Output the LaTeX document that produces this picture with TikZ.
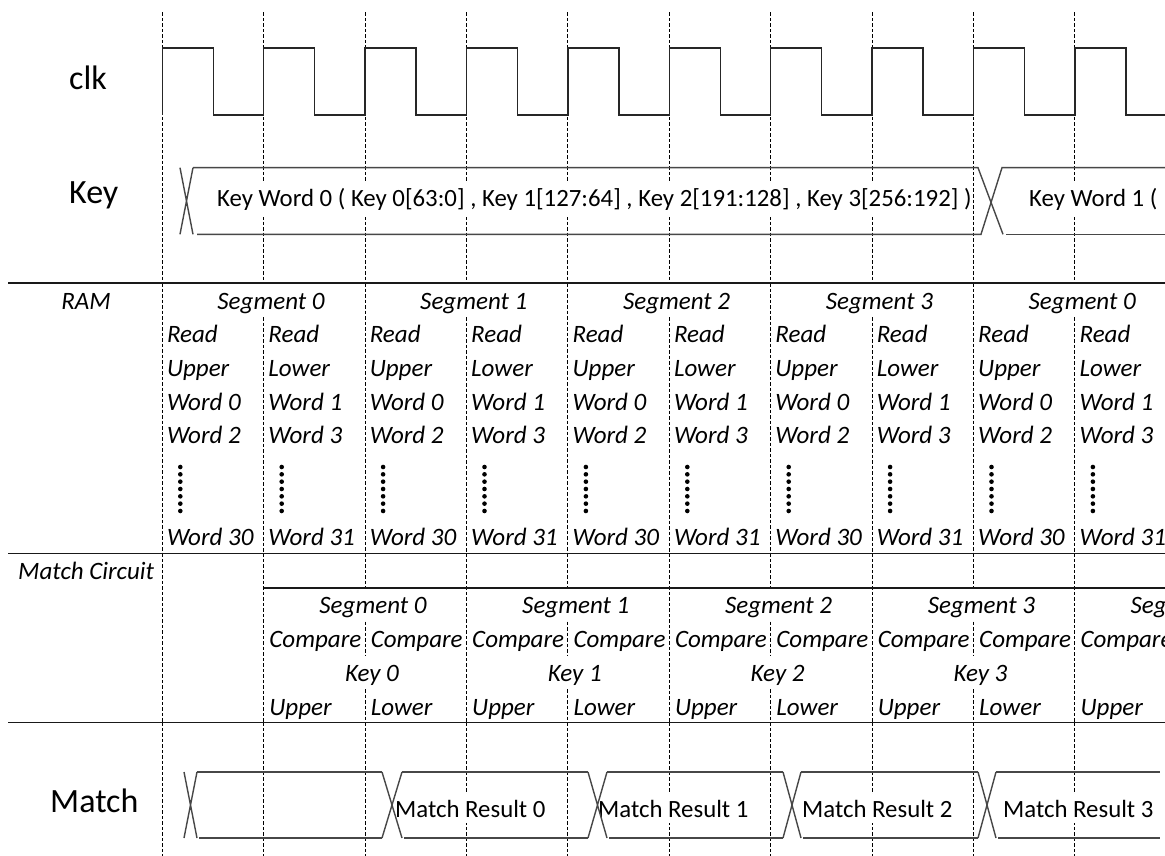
\documentclass[tikz,border=0pt]{standalone}
\usepackage{fontspec}
\setmainfont{Carlito}
\begin{document}
\begin{tikzpicture}[x=1pt,y=-1pt,
  dl/.style={dash pattern=on 3.5pt off 2pt, line width=1pt, black},
  sl/.style={line width=1.6pt, black!90},
  ck/.style={line width=1.5pt, black!85},
  bl/.style={line width=1.4pt, black!72},
  big/.style={font=\fontsize{34}{40}\selectfont, inner sep=0pt},
  bt/.style={font=\fontsize{24.8}{29}\selectfont, fill=white, inner xsep=1pt, inner ysep=6pt},
  it/.style={font=\fontsize{25}{30}\selectfont\itshape, inner sep=0pt},
]
\clip (0,0) rectangle (1165,856);
\fill[white] (0,0) rectangle (1165,856);

% ---- dashed clock-edge lines ----
\foreach \i in {0,...,9}{
  \pgfmathsetmacro{\xx}{162.3+101.4*\i}
  \draw[dl] (\xx,12.5) -- (\xx,283);
  \draw[dl] (\xx,722.3) -- (\xx,856);
}
% RAM zone
\foreach \i in {0,2,...,8}{
  \pgfmathsetmacro{\xx}{162.3+101.4*\i}
  \draw[dl] (\xx,283) -- (\xx,553.3);
}
\foreach \i in {1,3,...,9}{
  \pgfmathsetmacro{\xx}{162.3+101.4*\i}
  \draw[dl] (\xx,317) -- (\xx,553.3);
}
% Match circuit zone
\foreach \i in {0,1,3,5,7,9}{
  \pgfmathsetmacro{\xx}{162.3+101.4*\i}
  \draw[dl] (\xx,553.3) -- (\xx,722.3);
}
\foreach \i in {2,4,6,8}{
  \pgfmathsetmacro{\xx}{162.3+101.4*\i}
  \draw[dl] (\xx,553.3) -- (\xx,587.7);
  \draw[dl] (\xx,621.5) -- (\xx,655);
  \draw[dl] (\xx,689) -- (\xx,722.3);
}

% ---- horizontal dividers ----
\draw[sl] (8,283) -- (1165,283);
\draw[sl] (8,553.3) -- (1165,553.3);
\draw[sl] (8,722.3) -- (1165,722.3);
\draw[sl] (263.7,587.7) -- (1165,587.7);

% ---- clock ----
\draw[ck, line join=miter] (162.3,115) \foreach \i in {0,...,9}{
  -- ({162.3+101.4*\i},115) -- ({162.3+101.4*\i},48)
  -- ({213.3+101.4*\i},48) -- ({213.3+101.4*\i},115)} -- (1165,115);

% ---- signal names ----
\node[big, anchor=base west] (clk) at (69,90) {clk};
\node[big, anchor=base west] (key) at (69,203.5) {Key};
\node[big, anchor=base west] (match) at (50,812) {Match};

% ---- Key bus ----
\node[bt, anchor=base west] (kw0) at (216,207) {Key Word 0 ( Key 0[63:0] , Key 1[127:64] , Key 2[191:128] , Key 3[256:192] )};
\node[bt, anchor=base west] (kw1) at (1028,207) {Key Word 1 (};
\draw[bl] (180,167.7) -- (193,234.3) (180,234.3) -- (193,167.7);
\draw[bl] (193,167.7) -- (978,167.7) -- (1003,234.3);
\draw[bl] (197,234.3) -- (981,234.3) -- (1002,167.7) -- (1165,167.7);
\draw[bl] (1006,234.3) -- (1165,234.3);

% ---- RAM table ----
\node[it, anchor=base] (ram) at (86,309) {RAM};
\foreach \k/\s in {0/0,1/1,2/2,3/3,4/0}{
  \node[it, anchor=base] (rs\k) at ({271+202.8*\k},309) {Segment \s};
}
\foreach \c in {0,2,...,8}{
  \pgfmathsetmacro{\xx}{166.8+101.4*\c}
  \pgfmathsetmacro{\xd}{180.3+101.4*\c}
  \node[it, anchor=base west] (ra\c) at (\xx,342.7) {Read};
  \node[it, anchor=base west] (rb\c) at (\xx,376.5) {Upper};
  \node[it, anchor=base west] (rc\c) at (\xx,410) {Word 0};
  \node[it, anchor=base west] (rd\c) at (\xx,443.5) {Word 2};
  \node[it, anchor=base west] (re\c) at (\xx,545) {Word 30};
  \foreach \j in {0,...,6} \fill (\xd,{467+7.33*\j}) circle (2.3pt);
}
\foreach \c in {1,3,...,9}{
  \pgfmathsetmacro{\xx}{166.8+101.4*\c}
  \pgfmathsetmacro{\xd}{180.3+101.4*\c}
  \node[it, anchor=base west] (ra\c) at (\xx,342.7) {Read};
  \node[it, anchor=base west] (rb\c) at (\xx,376.5) {Lower};
  \node[it, anchor=base west] (rc\c) at (\xx,410) {Word 1};
  \node[it, anchor=base west] (rd\c) at (\xx,443.5) {Word 3};
  \node[it, anchor=base west] (re\c) at (\xx,545) {Word 31};
  \foreach \j in {0,...,6} \fill (\xd,{467+7.33*\j}) circle (2.3pt);
}

% ---- Match circuit table ----
\node[it, anchor=base west] (mc) at (18,579.5) {Match Circuit};
\foreach \k/\s in {0/0,1/1,2/2,3/3,4/0}{
  \node[it, anchor=base] (ms\k) at ({373+202.8*\k},613.3) {Segment \s};
}
\foreach \k in {0,...,3}{
  \node[it, anchor=base] (mk\k) at ({372+202.8*\k},681.7) {Key \k};
}
\foreach \c in {1,3,...,9}{
  \pgfmathsetmacro{\xx}{167.8+101.4*\c}
  \node[it, anchor=base west] (mca\c) at (\xx,647.7) {Compare};
  \node[it, anchor=base west] (mcb\c) at (\xx,715) {Upper};
}
\foreach \c in {2,4,...,8}{
  \pgfmathsetmacro{\xx}{167.8+101.4*\c}
  \node[it, anchor=base west] (mca\c) at (\xx,647.7) {Compare};
  \node[it, anchor=base west] (mcb\c) at (\xx,715) {Lower};
}

% ---- Match bus ----
\node[bt, anchor=base west] (mr0) at (394,817) {Match Result 0};
\node[bt, anchor=base west] (mr1) at (597,817) {Match Result 1};
\node[bt, anchor=base west] (mr2) at (801,817) {Match Result 2};
\node[bt, anchor=base west] (mr3) at (1002,817) {Match Result 3};
\draw[bl] (184,772) -- (197,838) (184,838) -- (197,772);
\draw[bl] (197,772) -- (382,772) (199,838) -- (382,838);
\foreach \a/\b/\n in {382/402/588, 588/607/783, 783/801/978, 978/996/1160}{
  \draw[bl] (\a,772) -- (\b,838) (\a,838) -- (\b,772);
  \draw[bl] (\b,772) -- (\n,772);
  \draw[bl] ({\b+2},838) -- (\n,838);
}
\end{tikzpicture}
\end{document}
